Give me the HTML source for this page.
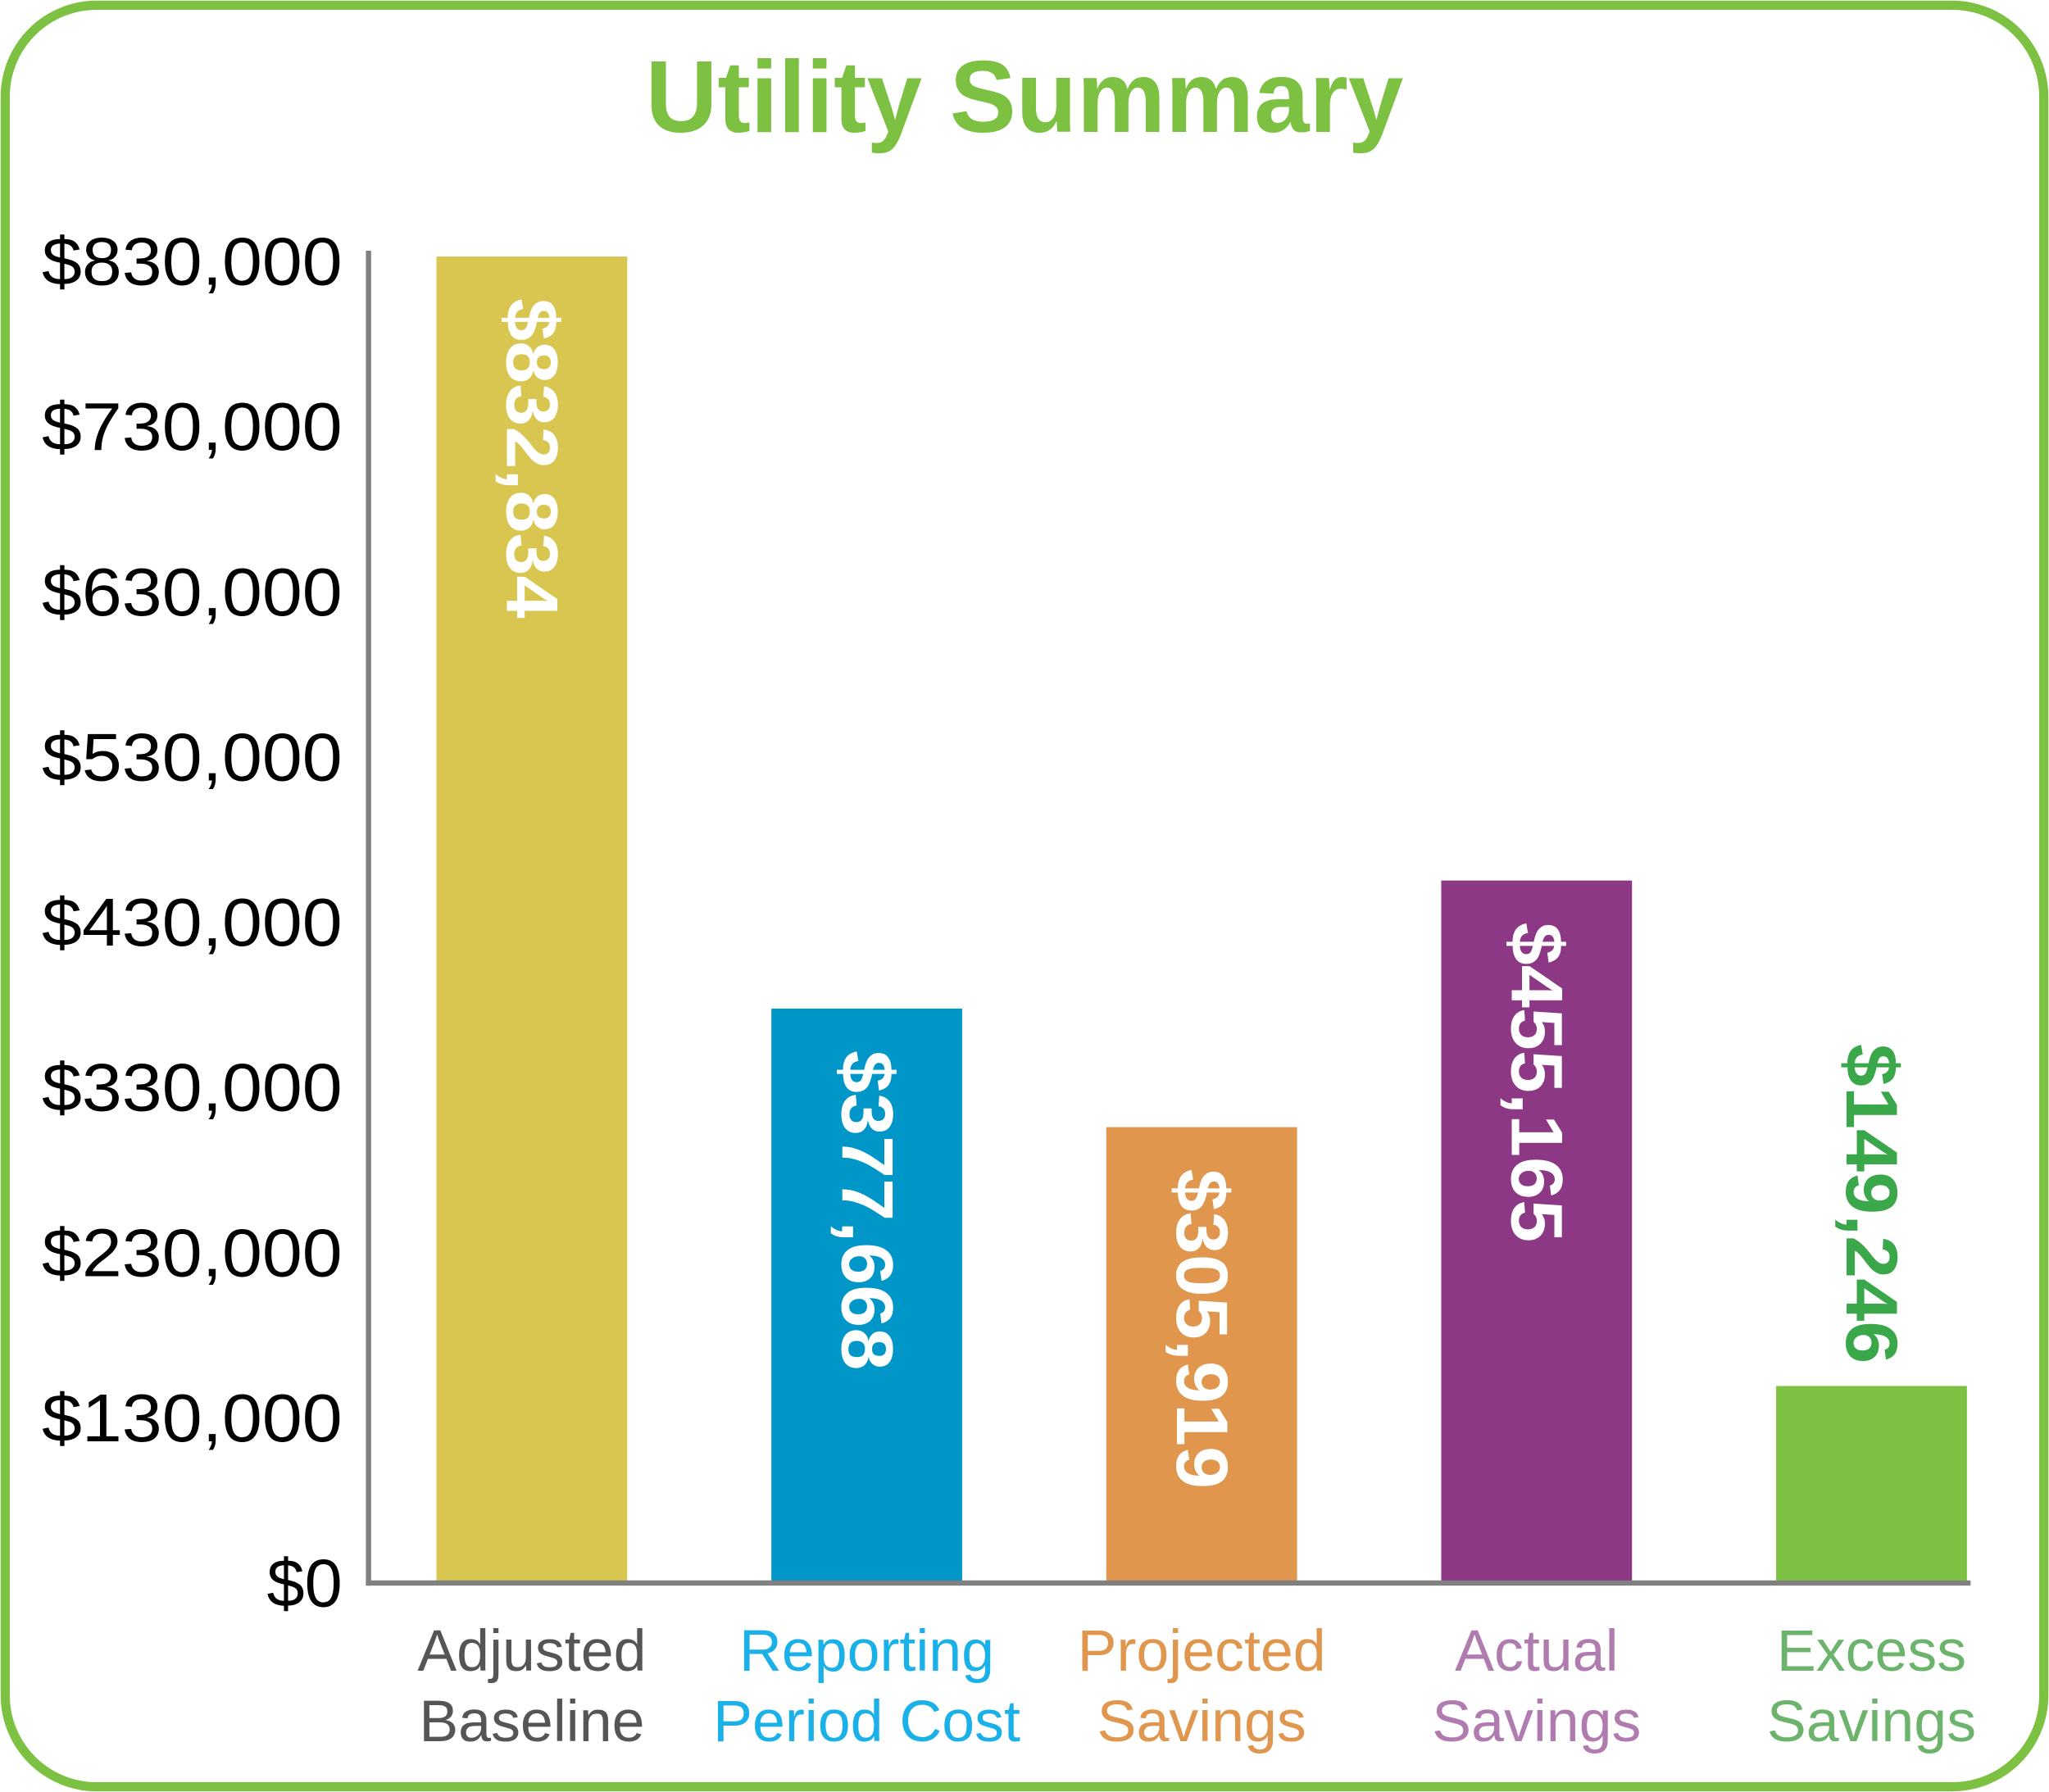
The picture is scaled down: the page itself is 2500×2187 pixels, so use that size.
<!DOCTYPE html>
<html><head><meta charset="utf-8"><style>
html,body{margin:0;padding:0;background:#fff;}
svg{display:block;font-family:"Liberation Sans",Arial,sans-serif;}
</style></head><body>
<svg id="chart" width="2500" height="2187" viewBox="0 0 1568 1372" preserveAspectRatio="none" xmlns="http://www.w3.org/2000/svg">
<rect x="4" y="4" width="1560" height="1364" rx="70" ry="70" fill="#fff" stroke="#7dc142" stroke-width="7"/>
<text x="784" y="101" text-anchor="middle" font-size="78" font-weight="bold" fill="#7dc142" textLength="580" lengthAdjust="spacingAndGlyphs">Utility Summary</text>
<g id="ticks"></g>
<g id="bars"></g>
<g id="labels"></g>
<line x1="282" y1="192" x2="282" y2="1214" stroke="#808080" stroke-width="4"/>
<line x1="280" y1="1212" x2="1508" y2="1212" stroke="#808080" stroke-width="4"/>
</svg>
<script>
const categoriesLine1 = ["Adjusted","Reporting","Projected","Actual","Excess"];
const categoriesLine2 = ["Baseline","Period Cost","Savings","Savings","Savings"];
const values = [832834, 377668, 305919, 455165, 149246];
const valueLabels = ["$832,834","$377,668","$305,919","$455,165","$149,246"];
const tickValues = [0,130000,230000,330000,430000,530000,630000,730000,830000];
const tickLabels = ["$0","$130,000","$230,000","$330,000","$430,000","$530,000","$630,000","$730,000","$830,000"];
const barColors = ["#d8c651","#0097c8","#e0964c","#8c3885","#7cc142"];
const catColors = ["#555555","#1ab0e8","#e0964c","#b07cb0","#6cb36c"];

const NS="http://www.w3.org/2000/svg";
const y0=1212, step=126.5;
function tickY(i){return y0 - i*step;}
function yScale(v){
  for(let i=0;i<tickValues.length-1;i++){
    if(v<=tickValues[i+1]){return tickY(i)+(tickY(i+1)-tickY(i))*(v-tickValues[i])/(tickValues[i+1]-tickValues[i]);}
  }
  const n=tickValues.length-1;
  return tickY(n)-(v-tickValues[n])*step/100000;
}
function xCenter(i){return 407 + i*256.3;}
const bw=146;
const tg=document.getElementById('ticks');
tickLabels.forEach((t,i)=>{
  const el=document.createElementNS(NS,'text');
  
  
  el.setAttribute('x',262);el.setAttribute('y',tickY(i)+18);
  el.setAttribute('text-anchor','end');el.setAttribute('font-size','52');
  el.setAttribute('fill','#000');
  if(t.length>3){el.setAttribute('textLength',t.length===8?230:0);el.setAttribute('lengthAdjust','spacingAndGlyphs');}
  if(t.length===2){el.removeAttribute('textLength');}
  el.textContent=t;tg.appendChild(el);
});
const bg=document.getElementById('bars'), lg=document.getElementById('labels');
values.forEach((v,i)=>{
  const cx=xCenter(i), top=yScale(v);
  const r=document.createElementNS(NS,'rect');
  
  
  r.setAttribute('x',cx-bw/2);r.setAttribute('y',top);
  r.setAttribute('width',bw);r.setAttribute('height',y0-top);
  r.setAttribute('fill',barColors[i]);bg.appendChild(r);
  const inside = (y0-top)>300;
  const startY = inside ? top+32 : top-262;
  const vl=document.createElementNS(NS,'text');
  
  
  vl.setAttribute('transform','translate('+(cx-19)+','+startY+') rotate(90)');
  vl.setAttribute('font-size','56');vl.setAttribute('font-weight','bold');
  vl.setAttribute('fill',inside?'#ffffff':'#3aa84a');
  vl.setAttribute('textLength','245');vl.setAttribute('lengthAdjust','spacingAndGlyphs');
  vl.textContent=valueLabels[i];lg.appendChild(vl);
  [categoriesLine1[i],categoriesLine2[i]].forEach((c,k)=>{
    const cl=document.createElementNS(NS,'text');
    
    
    cl.setAttribute('x',cx);cl.setAttribute('y',1279+k*54);
    cl.setAttribute('text-anchor','middle');cl.setAttribute('font-size','45');
    cl.setAttribute('fill',catColors[i]);
    cl.textContent=c;lg.appendChild(cl);
  });
});
</script>
</body></html>
